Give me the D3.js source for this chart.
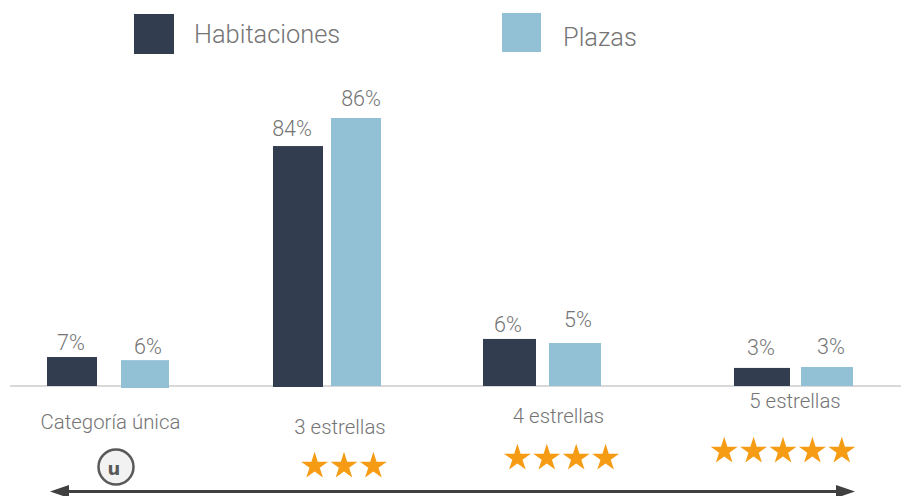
<!DOCTYPE html>
<html>
<head>
<meta charset="utf-8">
<script src="https://cdn.jsdelivr.net/npm/d3@7"></script>
<style>
  html, body { margin: 0; padding: 0; background: #fff; }
  svg { display: block; }
  text { font-family: Roboto, sans-serif; font-weight: 300; fill: #747474; }
</style>
</head>
<body>
<svg id="chart" width="901" height="496"></svg>
<script>
// data
var categories = ["Categoría única", "3 estrellas", "4 estrellas", "5 estrellas"];
var series = ["Habitaciones", "Plazas"];
var habLabels = ["7%", "84%", "6%", "3%"];
var plazaLabels = ["6%", "86%", "5%", "3%"];
// the printed percentages and the bar lengths disagree in the original,
// so the lengths are kept apart (percent units on the same axis)
var habLengths = [9.3, 77, 15.1, 5.8];
var plazaLengths = [8.3, 86, 13.8, 6.1];
var starCounts = [0, 3, 4, 5];

// the groups are hand placed in the original, not evenly spaced
var habLeft = [47, 273, 483, 734],
    habWidth = [50, 50, 53, 56],
    habGap = [7, 10, 7, 13],
    habDx = [-1, -6, -1.5, -1],
    plazaLeft = [121, 331, 549, 801],
    plazaWidth = [48, 50, 52, 52],
    plazaGap = [6, 12, 16, 13],
    plazaDx = [3, 5, 3, 4],
    plazaDrop = [2, 0, 0, 0],
    catLabelX = [110.5, 340, 558.5, 795],
    catLabelY = [429, 434, 423, 408],
    starX = [116, 344, 561.5, 783],
    starY = [0, 465, 457, 450];

var svg = d3.select("#chart"),
    colors = d3.scaleOrdinal().domain(series).range(["#323e50", "#92c1d6"]),
    baseline = 386;

var y = d3.scaleLinear().domain([0, 86]).range([baseline, 118]);

function byCat(values) {
  return d3.scaleOrdinal().domain(categories).range(values);
}

// axis line
svg.append("line")
    .attr("x1", 10).attr("x2", 901)
    .attr("y1", baseline).attr("y2", baseline)
    .attr("stroke", "#d9d9d9")
    .attr("stroke-width", 2);

// Draws one series of bars with labels on top
function drawSeries(name, lengths, labels, left, widths, gaps, dxs, drops) {
  var xs = byCat(left), ws = byCat(widths);
  var rows = categories.map(function(c, i) {
    return {cat: c, len: lengths[i], label: labels[i], gap: gaps[i], dx: dxs[i], drop: drops[i]};
  });

  svg.append("g").selectAll("rect")
      .data(rows)
    .enter().append("rect")
      .attr("x", function(d) { return xs(d.cat); })
      .attr("width", function(d) { return ws(d.cat); })
      .attr("y", function(d) { return y(d.len); })
      .attr("height", function(d) { return y(0) - y(d.len) + d.drop; })
      .attr("fill", colors(name));

  svg.append("g").selectAll("text")
      .data(rows)
    .enter().append("text")
      .attr("x", function(d) { return xs(d.cat) + ws(d.cat) / 2 + d.dx; })
      .attr("y", function(d) { return y(d.len) - d.gap; })
      .attr("text-anchor", "middle")
      .attr("font-size", 21.5)
      .text(function(d) { return d.label; });
}

drawSeries("Habitaciones", habLengths, habLabels, habLeft, habWidth, habGap, habDx, [0, 1, 0, 0]);
drawSeries("Plazas", plazaLengths, plazaLabels, plazaLeft, plazaWidth, plazaGap, plazaDx, plazaDrop);

// category names
svg.append("g").selectAll("text")
    .data(categories)
  .enter().append("text")
    .attr("x", function(d, i) { return catLabelX[i]; })
    .attr("y", function(d, i) { return catLabelY[i]; })
    .attr("text-anchor", "middle")
    .attr("font-size", 20.4)
    .text(function(d) { return d; });

// stars under each category
var star = d3.symbol().type(d3.symbolStar).size(225);
starCounts.forEach(function(n, i) {
  d3.range(n).forEach(function(k) {
    svg.append("path")
        .attr("d", star())
        .attr("fill", "#f59c14")
        .attr("transform", "translate(" + (starX[i] + (k - (n - 1) / 2) * 29.4) + "," + (starY[i] + 1) + ")");
  });
});

// round "u" badge for the single category
svg.append("circle")
    .attr("cx", 116).attr("cy", 467).attr("r", 17.5)
    .attr("fill", "#f2f2f2")
    .attr("stroke", "#595959")
    .attr("stroke-width", 2.5);
svg.append("text")
    .attr("x", 114).attr("y", 475)
    .attr("text-anchor", "middle")
    .attr("font-size", 18)
    .style("font-family", "'DejaVu Sans', sans-serif")
    .style("font-weight", 700)
    .style("fill", "#595959")
    .text("u");

// double arrow along the bottom
svg.append("line")
    .attr("x1", 62).attr("x2", 842)
    .attr("y1", 491.5).attr("y2", 491.5)
    .attr("stroke", "#404040")
    .attr("stroke-width", 3);
svg.append("path").attr("d", "M50,491.5L69,485V498Z").attr("fill", "#404040");
svg.append("path").attr("d", "M855,491.5L836,485V498Z").attr("fill", "#404040");

// legend
var legendX = [134, 502], legendY = [14, 13], legendSize = [40, 39],
    legendTextX = [194, 563], legendTextY = [43, 46];
series.forEach(function(s, i) {
  svg.append("rect")
      .attr("x", legendX[i]).attr("y", legendY[i])
      .attr("width", legendSize[i]).attr("height", legendSize[i])
      .attr("fill", colors(s));
  svg.append("text")
      .attr("x", legendTextX[i]).attr("y", legendTextY[i])
      .attr("font-size", 25.4)
      .text(s);
});
</script>
</body>
</html>
